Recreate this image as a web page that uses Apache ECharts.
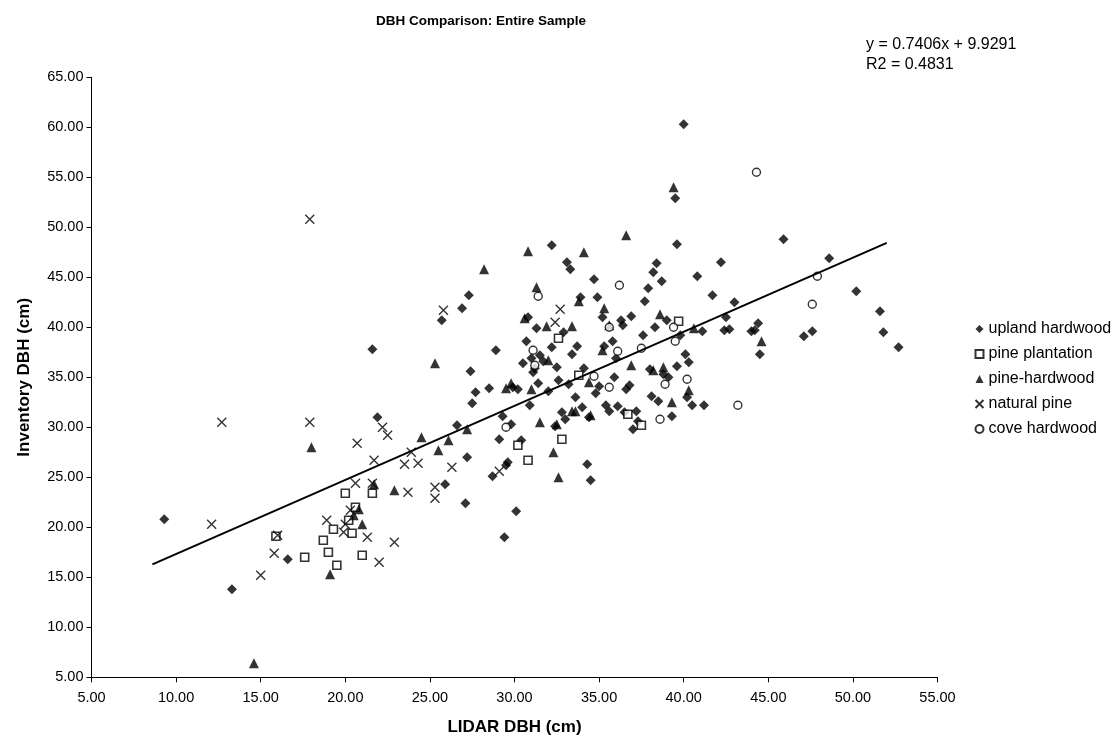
<!DOCTYPE html>
<html><head><meta charset="utf-8">
<script src="https://cdn.jsdelivr.net/npm/echarts@6/dist/echarts.min.js"></script>
<style>html,body{margin:0;padding:0;background:#fff}#c{width:1119px;height:746px}</style>
</head><body><div id="c"></div>
<script>
const seriesNames = ["upland hardwood","pine plantation","pine-hardwood","natural pine","cove hardwood"];
const xTicks = [5,10,15,20,25,30,35,40,45,50,55];
const yTicks = [5,10,15,20,25,30,35,40,45,50,55,60,65];
const slope = 0.7406, intercept = 9.9291, r2 = 0.4831;
const trendStartX = 8.6, trendEndX = 52.0;

const uplandHardwood = [[9.3,20.8],[13.3,13.8],[16.6,16.8],[21.6,37.8],[21.9,31.0],[25.7,40.7],[25.9,24.3],[26.6,30.2],[26.9,41.9],[27.1,22.4],[27.2,27.0],[27.3,43.2],[27.4,35.6],[27.5,32.4],[27.7,33.5],[28.7,25.1],[28.9,37.7],[29.1,28.8],[29.4,19.0],[29.5,26.2],[29.6,26.5],[29.8,30.3],[30.1,21.6],[30.4,28.7],[30.5,36.4],[30.7,38.6],[30.9,32.2],[31.1,35.5],[31.3,39.9],[31.4,34.4],[31.7,36.6],[32.2,48.2],[32.2,38.0],[32.4,30.1],[32.6,34.7],[32.9,39.5],[33.1,46.5],[33.3,45.8],[33.4,37.3],[33.6,33.0],[33.9,43.0],[34.1,35.9],[34.3,26.3],[34.5,24.7],[34.7,44.8],[34.9,43.0],[35.2,41.0],[35.4,32.2],[35.6,31.6],[35.8,38.6],[35.9,35.0],[36.1,32.1],[36.4,40.2],[36.6,33.8],[36.9,41.1],[37.0,29.8],[37.2,31.6],[37.3,30.6],[37.7,42.6],[37.9,43.9],[38.0,35.8],[38.2,45.5],[38.4,46.4],[38.5,32.6],[38.7,44.6],[38.8,35.3],[39.3,31.1],[39.5,52.9],[39.6,48.3],[39.6,36.1],[40.0,60.3],[40.1,37.3],[40.3,36.5],[40.5,32.2],[40.8,45.1],[41.2,32.2],[41.1,39.6],[41.7,43.2],[42.2,46.5],[42.4,39.7],[42.5,41.0],[42.7,39.8],[43.0,42.5],[44.0,39.6],[44.2,39.7],[44.4,40.4],[44.5,37.3],[45.9,48.8],[47.1,39.1],[47.6,39.6],[48.6,46.9],[50.2,43.6],[51.6,41.6],[51.8,39.5],[52.7,38.0],[30.2,33.8],[31.0,36.9],[31.5,37.2],[32.0,33.6],[32.8,31.5],[33.2,34.3],[33.7,38.1],[34.0,32.0],[34.8,33.4],[35.0,34.1],[36.0,36.9],[36.3,40.7],[36.8,34.2],[37.6,39.2],[38.3,40.0],[39.0,40.7],[39.8,39.2],[30.8,41.0],[29.9,34.0],[31.2,35.9],[32.5,36.0],[33.0,30.8],[34.4,31.0],[35.3,38.1],[36.5,31.5],[38.1,33.1],[39.1,35.0],[40.2,33.0],[28.5,33.9],[29.3,31.1]];
const pinePlantation = [[15.9,19.1],[17.6,17.0],[18.7,18.7],[19.0,17.5],[19.3,19.8],[19.5,16.2],[20.0,23.4],[20.2,20.7],[20.4,19.4],[20.6,22.0],[21.0,17.2],[21.6,23.4],[30.2,28.2],[30.8,26.7],[32.8,28.8],[33.8,35.2],[36.7,31.3],[37.5,30.2],[39.7,40.6],[32.6,38.9]];
const pineHardwood = [[14.6,6.4],[18.0,28.0],[19.1,15.3],[20.5,21.2],[20.8,21.8],[21.0,20.3],[21.7,24.3],[22.9,23.7],[24.5,29.0],[25.3,36.4],[25.5,27.7],[26.1,28.7],[27.2,29.8],[28.2,45.8],[29.5,33.9],[29.8,34.4],[30.6,40.9],[30.8,47.6],[31.0,33.8],[31.3,44.0],[31.5,30.5],[32.0,36.7],[31.9,40.1],[32.3,27.5],[32.5,30.3],[32.6,25.0],[33.4,31.6],[33.6,31.6],[33.4,40.1],[33.8,42.6],[34.1,47.5],[34.4,34.5],[34.5,31.2],[35.2,37.7],[35.3,41.9],[35.6,40.2],[36.6,49.2],[36.9,36.2],[38.6,41.3],[38.2,35.7],[39.4,54.0],[38.8,36.0],[40.3,33.7],[40.6,39.9],[44.6,38.6],[39.3,32.5]];
const naturalPine = [[12.1,20.3],[12.7,30.5],[15.0,15.2],[15.8,17.4],[16.0,19.2],[17.9,50.8],[17.9,30.5],[18.9,20.7],[19.9,19.5],[20.0,20.3],[20.6,24.4],[20.7,28.4],[21.3,19.0],[21.6,24.4],[21.7,26.7],[22.0,16.5],[22.2,30.0],[22.5,29.2],[22.9,18.5],[23.5,26.3],[23.7,23.5],[23.9,27.5],[24.3,26.4],[25.3,22.9],[25.3,24.0],[25.8,41.7],[26.3,26.0],[29.1,25.6],[32.4,40.5],[32.7,41.8],[20.3,21.7]];
const coveHardwood = [[29.5,30.0],[31.1,37.7],[31.4,43.1],[31.2,36.2],[34.7,35.1],[35.6,34.0],[35.6,40.0],[36.2,44.2],[37.5,37.9],[38.6,30.8],[38.9,34.3],[39.5,38.6],[39.4,40.0],[40.2,34.8],[43.2,32.2],[44.3,55.5],[47.6,42.3],[47.9,45.1],[36.1,37.6]];

const allData = [uplandHardwood,pinePlantation,pineHardwood,naturalPine,coveHardwood];
const trend = [[trendStartX, slope*trendStartX+intercept],[trendEndX, slope*trendEndX+intercept]];

const FONT = "Liberation Sans, Arial, sans-serif";
const X_PATH = 'path://M0,0L10,10M10,0L0,10';
const styles = [
  {symbol:'diamond', size:10, item:{color:'#000'}},
  {symbol:'rect', size:8, item:{color:'#fff', borderColor:'#000', borderWidth:1.6}},
  {symbol:'triangle', size:10, item:{color:'#000'}},
  {symbol:X_PATH, size:9, item:{color:'none', borderColor:'#000', borderWidth:1.4}},
  {symbol:'circle', size:8, item:{color:'#fff', borderColor:'#000', borderWidth:1.4}}
];

const chart = echarts.init(document.getElementById('c'));
const series = seriesNames.map((n,i)=>({
  name:n, type:'scatter', data:allData[i], symbol:styles[i].symbol, symbolSize:styles[i].size,
  itemStyle:styles[i].item, z:3
}));
series.push({name:'trend', type:'line', data:trend, symbol:'none', silent:true,
  lineStyle:{color:'#000', width:2}, z:4});

chart.setOption({
  animation:false,
  backgroundColor:'#fff',
  textStyle:{fontFamily:FONT},
  title:{text:'DBH Comparison: Entire Sample', left:476, top:9, textAlign:'center',
    textStyle:{fontFamily:FONT, fontSize:13.5, fontWeight:'bold', color:'#000'}},
  grid:{left:91.5, right:181.5, top:77.3, bottom:68.7, containLabel:false},
  legend:{data:seriesNames, orient:'vertical', left:968, top:315, itemGap:7, itemWidth:8, itemHeight:8,
    textStyle:{fontFamily:FONT, fontSize:16, color:'#000', lineHeight:18}},
  graphic:[
    {type:'text', x:866, y:45, style:{text:'y = '+slope.toFixed(4)+'x + '+intercept.toFixed(4), font:'16px '+FONT, fill:'#000', verticalAlign:'middle'}},
    {type:'text', x:866, y:65, style:{text:'R2 = '+r2.toFixed(4), font:'16px '+FONT, fill:'#000', verticalAlign:'middle'}}
  ],
  xAxis:{type:'value', min:5, max:55, interval:5,
    name:'LIDAR DBH (cm)', nameLocation:'middle', nameGap:42,
    nameTextStyle:{fontFamily:FONT, fontSize:17, fontWeight:'bold', color:'#000'},
    axisLine:{lineStyle:{color:'#000', width:1}}, axisTick:{show:true, length:5, lineStyle:{color:'#000'}},
    axisLabel:{formatter:v=>v.toFixed(2), fontFamily:FONT, fontSize:14.5, color:'#000', margin:13},
    splitLine:{show:false}},
  yAxis:{type:'value', min:5, max:65, interval:5,
    name:'Inventory DBH (cm)', nameLocation:'middle', nameGap:59, nameRotate:90,
    nameTextStyle:{fontFamily:FONT, fontSize:17, fontWeight:'bold', color:'#000'},
    axisLine:{show:true, lineStyle:{color:'#000', width:1}}, axisTick:{show:true, length:5, lineStyle:{color:'#000'}},
    axisLabel:{formatter:v=>v.toFixed(2), fontFamily:FONT, fontSize:14.5, color:'#000', margin:8},
    splitLine:{show:false}},
  series:series
});
</script></body></html>
